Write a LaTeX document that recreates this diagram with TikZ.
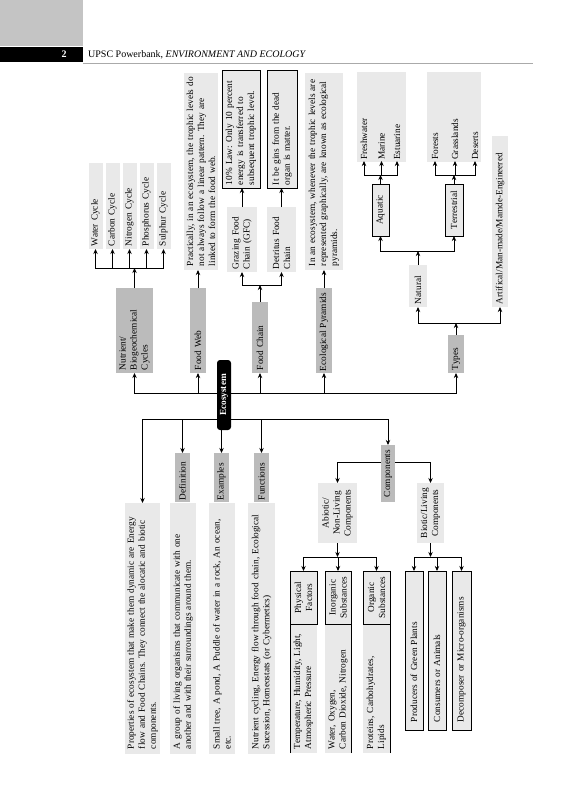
\documentclass[tikz,border=0pt]{standalone}
\usepackage{fontspec}
\setmainfont{Liberation Serif}
\usetikzlibrary{arrows.meta}
\definecolor{dk}{RGB}{187,187,187}
\definecolor{lt}{RGB}{233,233,233}
\definecolor{hdr}{RGB}{196,196,196}
\definecolor{rulegray}{RGB}{170,170,170}
\newcommand\dfont{\fontsize{9.3}{11}\selectfont\frenchspacing}
\begin{document}
\begin{tikzpicture}[x=1pt,y=1pt,
  bx/.style={rotate=90, inner ysep=0pt, inner xsep=3pt, font=\dfont, align=left, outer sep=0pt},
  dkb/.style={bx, fill=dk},
  ltb/.style={bx, fill=lt},
  olb/.style={bx, fill=lt, draw=black, line width=0.7pt},
  txb/.style={bx, fill=lt, inner xsep=4pt},
  lbl/.style={rotate=90, inner sep=1pt, font=\dfont, anchor=west},
  dims/.style n args={3}{minimum width=#1pt, minimum height=#2pt, text width=#3pt},
  arr/.style={line width=1pt, -{Stealth[length=5pt,width=4.4pt]}},
  arr2/.style={line width=1pt, {Stealth[length=5pt,width=4.4pt]}-{Stealth[length=5pt,width=4.4pt]}},
  sideln/.style={line width=0.7pt}
]
\useasboundingbox (0,0) rectangle (581,-800);
% header
\fill[hdr] (0,0) rectangle (83,-46);
\fill[black] (0,-47) rectangle (83,-62);
\node[text=white, font=\bfseries\fontsize{10}{12}\selectfont, anchor=base, inner sep=0pt] (pgnum) at (64,-58) {2};
\node[anchor=base west, inner sep=0pt, font=\fontsize{10}{12}\selectfont] (runhead) at (88,-58) {UPSC Powerbank, \textit{ENVIRONMENT AND ECOLOGY}};
\draw[rulegray, line width=1pt] (83,-63.5) -- (533,-63.5);

% upper branches
\node[dkb, dims={85}{37}{79}] (nut) at (134.5,-330.5) {Nutrient/\\Biogeochemical\\Cycles};
\node[ltb, dims={86}{14}{80}] (water) at (95.5,-206) {Water Cycle};
\node[ltb, dims={86}{14}{80}] (carbon) at (112.5,-206) {Carbon Cycle};
\node[ltb, dims={86}{14}{80}] (nitrogen) at (129.5,-206) {Nitrogen Cycle};
\node[ltb, dims={86}{14}{80}] (phos) at (146.5,-206) {Phosphorus Cycle};
\node[ltb, dims={86}{14}{80}] (sulph) at (163.5,-206) {Sulphur Cycle};

\node[dkb, dims={85}{16}{79}] (fw) at (198,-330.5) {Food Web};
\node[txb, dims={197}{34}{189}] (fwtext) at (201,-171.5) {Practically, in an ecosystem, the trophic levels do\\not always follow a linear pattern. They are\\linked to form the food web.};

\node[dkb, dims={71}{16}{65}] (fc) at (260,-337.5) {Food Chain};
\node[ltb, dims={65}{30}{59}] (gfc) at (242,-239.5) {Grazing Food\\Chain (GFC)};
\node[ltb, dims={65}{29}{59}] (dfc) at (281.5,-239.5) {Detritus Food\\Chain};
\node[olb, dims={118}{38}{112}] (law) at (241,-129) {10\% Law: Only 10 percent\\energy is transferred to\\subsequent trophic level.};
\node[olb, dims={118}{30}{112}] (dead) at (282,-129) {It be gins from the dead\\organ is matter.};

\node[dkb, dims={85}{16}{81}, inner xsep=2pt] (ep) at (324,-330.5) {Ecological Pyramids};
\node[txb, dims={197}{38}{189}] (eptext) at (324,-171.5) {In an ecosystem, whenever the trophic levels are\\represented graphically, are known as ecological\\pyramids.};

\node[dkb, dims={38}{16}{32}] (types) at (456,-354) {Types};
\node[ltb, dims={42}{18}{36}] (natural) at (418,-286) {Natural};
\node[ltb, dims={171}{16}{165}] (artificial) at (500,-221.5) {Artifical/Man-made/Mamde-Engineered};
\node[olb, dims={52}{17}{46}, align=center] (aquatic) at (380.5,-210) {Aquatic};
\node[olb, dims={52}{18}{46}, align=center] (terrestrial) at (454,-210) {Terrestrial};
\node[ltb, minimum width=90pt, minimum height=49pt] (aqbg) at (381.5,-117) {};
\node[ltb, minimum width=90pt, minimum height=54pt] (terrbg) at (454,-117) {};
\node[lbl] (fresh) at (364,-161) {Freshwater};
\node[lbl] (marine) at (381.5,-161) {Marine};
\node[lbl] (estuarine) at (397,-161) {Estuarine};
\node[lbl] (forests) at (435,-161) {Forests};
\node[lbl] (grass) at (455,-161) {Grasslands};
\node[lbl] (deserts) at (475,-161) {Deserts};

% lower branches
\node[dkb, dims={49}{15}{45}, inner xsep=2pt] (defn) at (182.5,-477.5) {Definition};
\node[dkb, dims={49}{15}{45}, inner xsep=2pt] (exam) at (221.5,-477.5) {Examples};
\node[dkb, dims={49}{15}{45}, inner xsep=2pt] (func) at (261.5,-477.5) {Functions};
\node[txb, dims={251}{35}{241}] (props) at (142.5,-628.5) {Properties of ecosystem that make them dynamic are Energy\\flow and Food Chains. They connect the alocatic and biotic\\components.};
\node[txb, dims={251}{26}{241}] (defntext) at (183,-628.5) {A group of living organisms that communicate with one\\another and with their surroundings around them.};
\node[txb, dims={251}{26}{241}] (examtext) at (222,-628.5) {Small tree, A pond, A Puddle of water in a rock, An ocean,\\etc.};
\node[txb, dims={251}{27}{241}] (functext) at (261.5,-628.5) {Nutrient cycling, Energy flow through food chain, Ecological\\Sucession, Homeostats (or Cybermetics)};

\node[dkb, dims={57}{14}{53}, inner xsep=2pt, align=center] (comp) at (388,-473.5) {Components};
\node[ltb, dims={60}{39}{56}, inner xsep=2pt, align=center] (abiotic) at (337.5,-513) {Abiotic/\\Non-Living\\Components};
\node[ltb, dims={60}{27}{56}, inner xsep=2pt, align=center] (biotic) at (430.5,-513) {Biotic/Living\\Components};

\node[ltb, minimum width=182pt, minimum height=27pt] (physcol) at (303.5,-662) {};
\node[olb, dims={53}{27}{49}, inner xsep=2pt, align=center] (physh) at (303.5,-597.5) {Physical\\Factors};
\node[bx, dims={129}{27}{121}, inner xsep=4pt] (phystx) at (303.5,-688.5) {Temperature, Humidity, Light,\\Atmospheric Pressure};
\node[ltb, minimum width=182pt, minimum height=26pt] (inorgcol) at (338,-662) {};
\node[olb, dims={53}{26}{49}, inner xsep=2pt, align=center] (inorgh) at (338,-597.5) {Inorganic\\Substances};
\node[bx, dims={129}{26}{121}, inner xsep=4pt] (inorgtx) at (338,-688.5) {Water, Oxygen,\\Carbon Dioxide, Nitrogen};
\node[ltb, minimum width=182pt, minimum height=27pt] (orgcol) at (376.5,-662) {};
\node[olb, dims={53}{27}{49}, inner xsep=2pt, align=center] (orgh) at (376.5,-597.5) {Organic\\Substances};
\node[bx, dims={129}{27}{121}, inner xsep=4pt] (orgtx) at (376.5,-688.5) {Proteins, Carbohydrates,\\Lipids};
\draw[sideln] (physcol.north west) -- (physcol.north east);
\draw[sideln] (inorgcol.south west) -- (inorgcol.south east);
\draw[sideln] (orgcol.south west) -- (orgcol.south east);

\node[olb, dims={159}{18}{143}, inner xsep=8pt] (prod) at (414,-650.5) {Producers of Green Plants};
\node[olb, dims={159}{18}{143}, inner xsep=8pt] (cons) at (437,-650.5) {Consumers or Animals};
\node[olb, dims={159}{19}{143}, inner xsep=8pt] (decomp) at (461.5,-650.5) {Decomposer or Micro-organisms};

% junction levels
\coordinate (ubus) at (0,-393);
\coordinate (lbus) at (0,-419);
\coordinate (cbus) at (0,-268);
\coordinate (fcj) at (0,-285);
\coordinate (tj) at (0,-323);
\coordinate (nj) at (0,-251);
\coordinate (aj) at (0,-175);
\coordinate (cj) at (0,-462);
\coordinate (abj) at (0,-557);

% main buses
\draw[arr2] (nut.west) -- (nut.west |- ubus) -- (types.west |- ubus) -- (types.west);
\foreach \n in {fw,fc,ep} \draw[arr] (\n.west |- ubus) -- (\n.west);
\draw[arr2] (props.east) -- (props.east |- lbus) -- (comp.east |- lbus) -- (comp.east);
\foreach \n in {defn,exam,func} \draw[arr] (\n.east |- lbus) -- (\n.east);

% nutrient cycles
\draw[arr] (nut.east) -- (nut.east |- cbus);
\draw[arr2] (water.west) -- (water.west |- cbus) -- (sulph.west |- cbus) -- (sulph.west);
\foreach \n in {carbon,nitrogen,phos} \draw[arr] (\n.west |- cbus) -- (\n.west);

% food web, pyramids
\draw[arr] (fw.east) -- (fw.east |- fwtext.west);
\draw[arr] (ep.east) -- (ep.east |- eptext.west);

% food chain
\draw[arr] (fc.east) -- (fc.east |- fcj);
\draw[arr2] (gfc.west) -- (gfc.west |- fcj) -- (dfc.west |- fcj) -- (dfc.west);
\draw[arr] (gfc.east) -- (gfc.east |- law.west);
\draw[arr] (dfc.east) -- (dfc.east |- dead.west);

% types
\draw[arr] (types.east) -- (types.east |- tj);
\draw[arr2] (natural.west) -- (natural.west |- tj) -- (artificial.west |- tj) -- (artificial.west);
\draw[arr] (natural.east) -- (natural.east |- nj);
\draw[arr2] (aquatic.west) -- (aquatic.west |- nj) -- (terrestrial.west |- nj) -- (terrestrial.west);
\draw[arr] (aquatic.east) -- (aquatic.east |- aj);
\draw[arr2] (fresh.west) -- (fresh.west |- aj) -- (estuarine.west |- aj) -- (estuarine.west);
\draw[arr] (marine.west |- aj) -- (marine.west);
\draw[arr] (terrestrial.east) -- (terrestrial.east |- aj);
\draw[arr2] (forests.west) -- (forests.west |- aj) -- (deserts.west |- aj) -- (deserts.west);
\draw[arr] (grass.west |- aj) -- (grass.west);

% components
\draw[arr] (comp.north |- cj) -| (abiotic.east);
\draw[arr] (comp.south |- cj) -| (biotic.east);
\draw[arr] (abiotic.west) -- (abiotic.west |- abj);
\draw[arr2] (physh.east) -- (physh.east |- abj) -- (orgh.east |- abj) -- (orgh.east);
\draw[arr] (inorgh.east |- abj) -- (inorgh.east);
\draw[arr] (biotic.west) -- (biotic.west |- abj);
\draw[arr2] (prod.east) -- (prod.east |- abj) -- (decomp.east |- abj) -- (decomp.east);
\draw[arr] (cons.east |- abj) -- (cons.east);

% centre node on top
\node[rotate=90, fill=black, text=white, font=\dfont\bfseries, rounded corners=3pt, minimum width=70pt, minimum height=14pt, inner sep=0pt] (eco) at (224,-395) {Ecosystem};
\end{tikzpicture}
\end{document}
